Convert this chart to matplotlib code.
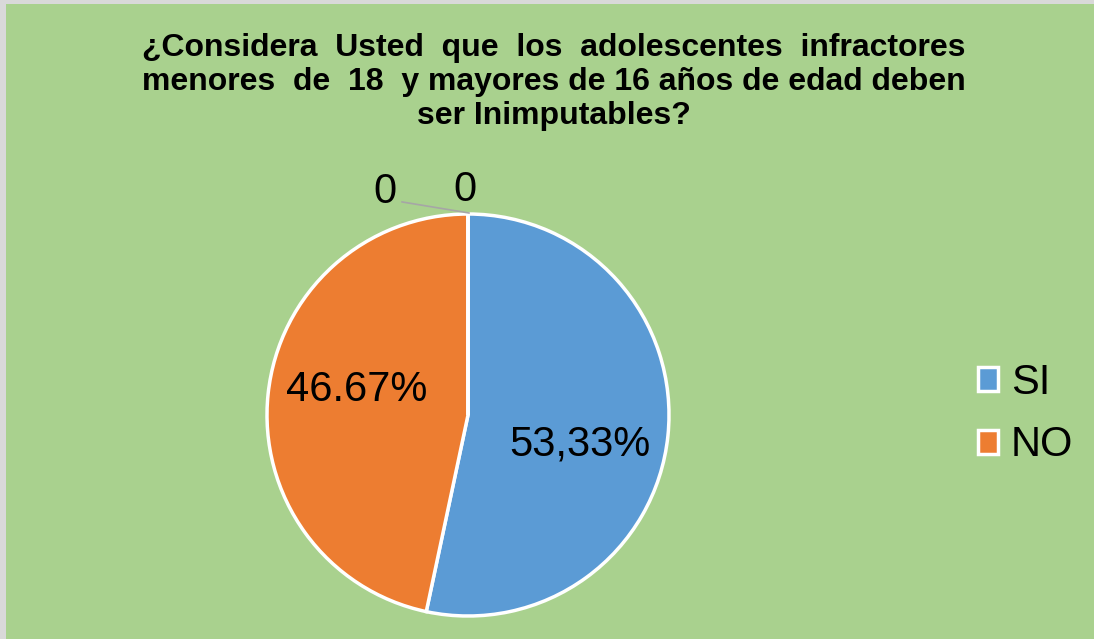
import matplotlib.pyplot as plt
from matplotlib.patches import Rectangle
from matplotlib.lines import Line2D

# data
categories = ['SI', 'NO', '', '']
values = [53.33, 46.67, 0, 0]
colors = ['#5B9BD5', '#ED7D31', '#A5A5A5', '#FFC000']
value_labels = ['53,33%', '46.67%', '0', '0']
title = ('¿Considera  Usted  que  los  adolescentes  infractores\n'
         'menores  de  18  y mayores de 16 años de edad deben\n'
         'ser Inimputables?')

W, H = 1094, 639
fig = plt.figure(figsize=(W / 100, H / 100), dpi=100)
fig.patch.set_facecolor('#A9D18E')
# thin grey border on the left and top like the original chart frame
fig.patches.append(Rectangle((0, 0), 6 / W, 1, transform=fig.transFigure,
                             facecolor='#D9D9D9', edgecolor='none', zorder=-10))
fig.patches.append(Rectangle((0, (H - 4) / H), 1, 4 / H, transform=fig.transFigure,
                             facecolor='#D9D9D9', edgecolor='none', zorder=-10))

plt.rcParams['font.family'] = ['Liberation Sans', 'DejaVu Sans']

fig.text(554 / W, 1 - 82 / H, title, ha='center', va='center', fontsize=23,
         fontweight='bold', linespacing=1.17)

# pie axes: center (468, 415), radius 201 px
cx, cy, r = 468, 415, 201
ax = fig.add_axes([(cx - r) / W, (H - cy - r) / H, 2 * r / W, 2 * r / H])
wedges, _ = ax.pie(values, colors=colors, startangle=90, counterclock=False,
                   radius=1, wedgeprops=dict(edgecolor='white', linewidth=2.5))
ax.set_xlim(-1, 1)
ax.set_ylim(-1, 1)
ax.set_aspect('equal')
ax.axis('off')

# data labels (positions in pie units)
label_pos = [(0.557, -0.149), (-0.552, 0.124), (-0.413, 1.11), (-0.015, 1.12)]
for (x, y), txt in zip(label_pos, value_labels):
    ax.text(x, y, txt, ha='center', va='center', fontsize=30, clip_on=False)
ax.add_line(Line2D([-0.328, 0.005], [1.06, 1.005], color='#A6A6A6', lw=1.2,
                   clip_on=False))

# legend
handles = [Rectangle((0, 0), 1, 1, facecolor=c, edgecolor='white', linewidth=2.5)
           for c in colors[:2]]
fig.legend(handles, categories[:2], loc='center left',
           bbox_to_anchor=(940 / W, 1 - 414 / H), frameon=False, fontsize=30,
           handlelength=0.5, handleheight=0.5, handletextpad=0.3,
           labelspacing=0.55)

fig.savefig('out.png', dpi=100, facecolor=fig.get_facecolor())
